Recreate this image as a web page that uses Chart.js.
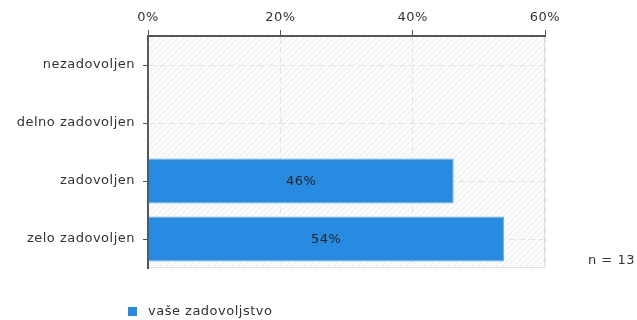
<!DOCTYPE html>
<html>
<head>
<meta charset="utf-8">
<script src="https://cdn.jsdelivr.net/npm/chart.js"></script>
<style>
  body { margin: 0; background: #fff; }
  #wrap { width: 637px; height: 320px; }
</style>
</head>
<body>
<div id="wrap"><canvas id="satisfaction"></canvas></div>

<script>
    // data
    const categories = ['nezadovoljen', 'delno zadovoljen', 'zadovoljen', 'zelo zadovoljen'];
    const values = [0, 0, 46.2, 53.8];
    const seriesName = 'vaše zadovoljstvo';
    const xTicks = [0, 20, 40, 60];
    const sampleSize = 13;

    const font = "DejaVu Sans";
    const fontSize = 13;
    const barColor = '#288be2';

    // hatched background for the plot area
    function makeHatch() {
        const c = document.createElement('canvas');
        c.width = 6; c.height = 6;
        const g = c.getContext('2d');
        g.fillStyle = '#fbfbfb';
        g.fillRect(0, 0, 6, 6);
        g.strokeStyle = '#ececec';
        g.lineWidth = 1;
        g.beginPath();
        g.moveTo(0, 6); g.lineTo(6, 0);
        g.moveTo(-1, 1); g.lineTo(1, -1);
        g.moveTo(5, 7); g.lineTo(7, 5);
        g.stroke();
        return c;
    }

    // the source font is a bit wider, so space the letters a little
    const spacing = {
        id: 'spacing',
        beforeUpdate(chart) { chart.ctx.letterSpacing = '0.5px'; },
        beforeDraw(chart) { chart.ctx.letterSpacing = '0.5px'; }
    };

    const backdrop = {
        id: 'backdrop',
        beforeDraw(chart) {
            const {ctx, chartArea: a} = chart;
            ctx.save();
            ctx.fillStyle = ctx.createPattern(makeHatch(), 'repeat');
            ctx.fillRect(a.left, a.top, a.right - a.left, a.bottom - a.top);
            ctx.strokeStyle = '#dedede';
            ctx.lineWidth = 1;
            ctx.beginPath();
            ctx.moveTo(a.right - 0.5, a.top);
            ctx.lineTo(a.right - 0.5, a.bottom - 0.5);
            ctx.lineTo(a.left, a.bottom - 0.5);
            ctx.stroke();
            ctx.restore();
        }
    };

    const extras = {
        id: 'extras',
        afterDatasetsDraw(chart) {
            const {ctx} = chart;
            const meta = chart.getDatasetMeta(0);
            ctx.save();
            ctx.font = fontSize + 'px ' + font;
            ctx.fillStyle = '#222';
            ctx.textAlign = 'center';
            ctx.textBaseline = 'middle';
            meta.data.forEach((bar, i) => {
                const v = values[i];
                if (!v) return;
                ctx.fillText(Math.round(v) + '%', (bar.x + bar.base) / 2, bar.y + 1);
            });
            ctx.restore();
        },
        afterDraw(chart) {
            const {ctx} = chart;
            ctx.save();
            ctx.font = fontSize + 'px ' + font;
            ctx.fillStyle = '#333';
            ctx.textBaseline = 'middle';
            ctx.textAlign = 'left';
            ctx.fillText('n = ' + sampleSize, 588, 261);
            // legend
            ctx.fillStyle = barColor;
            ctx.fillRect(128, 307, 9, 9);
            ctx.fillStyle = '#333';
            ctx.fillText(seriesName, 148, 312);
            ctx.restore();
        }
    };

    const config = {
        type: 'bar',
        data: {
            labels: categories,
            datasets: [{
                label: seriesName,
                data: values,
                backgroundColor: barColor,
                borderColor: '#6cb3f2',
                borderWidth: 1,
                minBarLength: 1,
                barPercentage: 0.78,
                categoryPercentage: 1
            }]
        },
        options: {
            indexAxis: 'y',
            responsive: true,
            maintainAspectRatio: false,
            animation: false,
            layout: { padding: { left: 0, right: 92, top: 0, bottom: 52 } },
            plugins: {
                legend: { display: false },
                tooltip: { enabled: false }
            },
            scales: {
                x: {
                    position: 'top',
                    min: 0,
                    max: 60,
                    afterBuildTicks: s => { s.ticks = xTicks.map(v => ({value: v})); },
                    afterFit: s => { s.height = 36; },
                    ticks: {
                        callback: v => v + '%',
                        color: '#333',
                        font: { family: font, size: fontSize },
                        padding: 5,
                        maxRotation: 0
                    },
                    grid: {
                        color: '#e3e3e3',
                        tickColor: '#555',
                        tickLength: 6,
                        tickWidth: 1,
                        tickBorderDash: []
                    },
                    border: { color: '#555', width: 2, dash: [6, 4] }
                },
                y: {
                    afterFit: s => { s.width = 148; },
                    ticks: {
                        color: '#333',
                        font: { family: font, size: fontSize },
                        padding: 8
                    },
                    grid: {
                        offset: false,
                        color: '#e3e3e3',
                        tickColor: '#555',
                        tickLength: 5,
                        tickWidth: 1,
                        tickBorderDash: []
                    },
                    border: { color: '#555', width: 2, dash: [6, 4] }
                }
            }
        },
        plugins: [spacing, backdrop, extras]
    };

    const chart = new Chart(document.getElementById('satisfaction'), config);
</script>
</body>
</html>
